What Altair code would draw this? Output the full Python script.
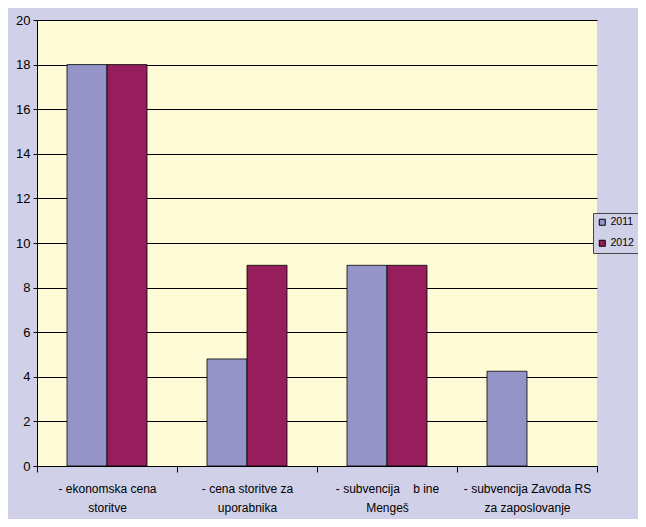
import altair as alt
import pandas as pd

categories = [
    "- ekonomska cena|storitve",
    "- cena storitve za|uporabnika",
    "- subvencija\u00a0\u00a0\u00a0\u00a0b\u00a0ine|Mengeš",
    "- subvencija Zavoda RS|za zaposlovanje",
]
series = ["2011", "2012"]
values_2011 = [18.0, 4.8, 9.0, 4.25]
values_2012 = [18.0, 9.0, 9.0, None]

rows = []
for c, a, b in zip(categories, values_2011, values_2012):
    if a is not None:
        rows.append({"kategorija": c, "leto": "2011", "vrednost": a})
    if b is not None:
        rows.append({"kategorija": c, "leto": "2012", "vrednost": b})
df = pd.DataFrame(rows)

FONT = "Liberation Sans, Arial"

chart = alt.Chart(df).mark_bar(stroke="#000000", strokeWidth=0.8).encode(
    x=alt.X("kategorija:N", sort=categories, title=None,
            scale=alt.Scale(paddingInner=0, paddingOuter=0),
            axis=alt.Axis(labelExpr="split(datum.label, '|')", labelAngle=0,
                          labelFontSize=12, labelLineHeight=19, labelPadding=11,
                          tickBand="extent", tickSize=6, tickColor="#000000",
                          domainColor="#000000", labelColor="#000000",
                          labelFont=FONT)),
    xOffset=alt.XOffset("leto:N", sort=series,
                        scale=alt.Scale(paddingInner=0, paddingOuter=0.75)),
    y=alt.Y("vrednost:Q", title=None,
            scale=alt.Scale(domain=[0, 20], nice=False),
            axis=alt.Axis(values=list(range(0, 21, 2)), grid=True,
                          gridColor="#000000", gridWidth=1, gridOpacity=1,
                          tickSize=4, tickColor="#000000", domainColor="#000000",
                          labelFontSize=13, labelColor="#000000", labelFont=FONT,
                          labelPadding=3)),
    color=alt.Color("leto:N", sort=series,
                    scale=alt.Scale(domain=series, range=["#9494C8", "#961E5C"]),
                    legend=alt.Legend(title=None, orient="none", legendX=556, legendY=193,
                                      symbolType="square", symbolSize=36,
                                      symbolStrokeColor="#000000", symbolStrokeWidth=1,
                                      labelFontSize=10.5, labelFont=FONT, labelColor="#000000",
                                      labelOffset=3,
                                      strokeColor="#444444", padding=4, rowPadding=10,
                                      fillColor="#D0D0E8")),
).properties(
    width=560,
    height=446,
    background="#D0D0E8",
    padding={"left": 29, "top": 12, "right": 41, "bottom": 53},
    autosize=alt.AutoSizeParams(type="none"),
).configure_view(
    fill="#FFFBD7", stroke=None
)

chart.save("out.html", embed_options={"renderer": "svg", "actions": False})
